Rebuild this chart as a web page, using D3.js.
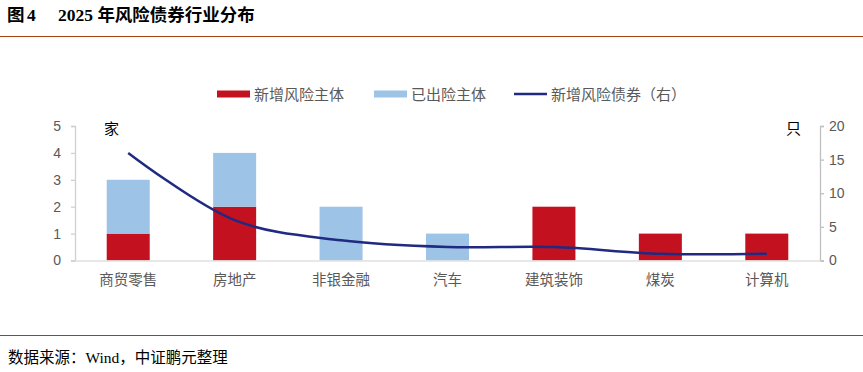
<!DOCTYPE html>
<html><head><meta charset="utf-8">
<script src="https://cdn.jsdelivr.net/npm/d3@7"></script>
<style>body{margin:0;background:#fff;}svg{display:block;}</style>
</head><body>
<script>
const categories = ["商贸零售","房地产","非银金融","汽车","建筑装饰","煤炭","计算机"];
const newEntities = [1,2,0,0,2,1,1];
const oldEntities = [2,2,2,1,0,0,0];
const newBonds = [16,6,3,2,2,1,1];
const leftTicks = [0,1,2,3,4,5];
const rightTicks = [0,5,10,15,20];
const seriesNames = ["新增风险主体","已出险主体","新增风险债券（右）"];
const colors = ["#C3111F","#9DC3E6","#1F2A80"];

const W=863,H=372;
const svg=d3.select("body").append("svg").attr("width",W).attr("height",H);
const sans="'Noto Sans CJK SC','Noto Sans',sans-serif";
const serif="'Liberation Serif','Noto Sans CJK SC',serif";

// title
const t=svg.append("text").attr("x",7).attr("y",21).attr("font-size",17.5).attr("font-weight","bold").attr("fill","#000");
t.append("tspan").attr("font-family","'Noto Sans CJK SC'").text("图");
t.append("tspan").attr("x",27).attr("font-family",serif).text("4");
t.append("tspan").attr("x",58).attr("font-family",serif).text("2025 ");
t.append("tspan").attr("font-family","'Noto Sans CJK SC'").text("年风险债券行业分布");
svg.append("line").attr("x1",0).attr("x2",W).attr("y1",36.5).attr("y2",36.5).attr("stroke","#A6400E").attr("stroke-width",1.2);
svg.append("line").attr("x1",0).attr("x2",W).attr("y1",335.5).attr("y2",335.5).attr("stroke","#A6400E").attr("stroke-width",1.2);
const s=svg.append("text").attr("x",8).attr("y",363).attr("font-size",15.5).attr("fill","#000");
s.append("tspan").attr("font-family","'Noto Sans CJK SC'").text("数据来源：");
s.append("tspan").attr("font-family",serif).text("Wind");
s.append("tspan").attr("font-family","'Noto Sans CJK SC'").text("，中证鹏元整理");

const x0=75,x1=820,yb=260.5,yt=126;
const xc=d3.scaleBand().domain(categories).range([x0,x1]);
const yL=d3.scaleLinear().domain([0,5]).range([yb,yt]);
const yR=d3.scaleLinear().domain([0,20]).range([yb,yt]);

// bars
const g=svg.append("g");
categories.forEach((c,i)=>{
  const cx=xc(c)+xc.bandwidth()/2, bw=43;
  g.append("rect").attr("x",cx-bw/2).attr("width",bw).attr("y",yL(newEntities[i])).attr("height",yb-yL(newEntities[i])).attr("fill",colors[0]);
  g.append("rect").attr("x",cx-bw/2).attr("width",bw).attr("y",yL(newEntities[i]+oldEntities[i])).attr("height",yL(newEntities[i])-yL(newEntities[i]+oldEntities[i])).attr("fill",colors[1]);
});

// axes
const axL=svg.append("g").attr("transform",`translate(${x0},0)`).call(d3.axisLeft(yL).tickValues(leftTicks).tickFormat(d3.format("d")).tickSize(4).tickPadding(10));
const axR=svg.append("g").attr("transform",`translate(${x1},0)`).call(d3.axisRight(yR).tickValues(rightTicks).tickFormat(d3.format("d")).tickSize(4).tickPadding(5));
[axL,axR].forEach(a=>{a.selectAll("path,line").attr("stroke","#D0D0D0").attr("stroke-width",1.3);a.selectAll("text").attr("font-family","'Liberation Sans',Arial,sans-serif").attr("font-size",14).attr("fill","#595959");});
axR.selectAll("path,line").attr("stroke","#BFBFBF");
const axB=svg.append("g").attr("transform",`translate(0,${yb})`).call(d3.axisBottom(xc).tickSize(0).tickPadding(14));
axB.select("path").attr("stroke","#E0E0E0").attr("stroke-width",1.5);
axB.selectAll("text").attr("font-family",sans).attr("font-size",14.5).attr("fill","#595959");

// unit labels
svg.append("text").attr("x",104).attr("y",134).attr("font-family",sans).attr("font-size",15).attr("fill","#000").text("家");
svg.append("text").attr("x",786).attr("y",134).attr("font-family",sans).attr("font-size",15).attr("fill","#000").text("只");

// line
const line=d3.line().x((d,i)=>xc(categories[i])+xc.bandwidth()/2).y(d=>yR(d)).curve(d3.curveCatmullRom.alpha(0.5));
svg.append("path").datum(newBonds).attr("d",line).attr("fill","none").attr("stroke",colors[2]).attr("stroke-width",2.5);

// legend
const lx=[217,374,514];
const lg=svg.append("g");
seriesNames.forEach((n,i)=>{
  lg.append("line").attr("x1",lx[i]).attr("x2",lx[i]+33).attr("y1",94).attr("y2",94).attr("stroke",colors[i]).attr("stroke-width",i==2?2.5:7);
  lg.append("text").attr("x",lx[i]+37).attr("y",99.5).attr("font-family",sans).attr("font-size",15).attr("fill","#595959").text(n);
});
</script>
</body></html>
